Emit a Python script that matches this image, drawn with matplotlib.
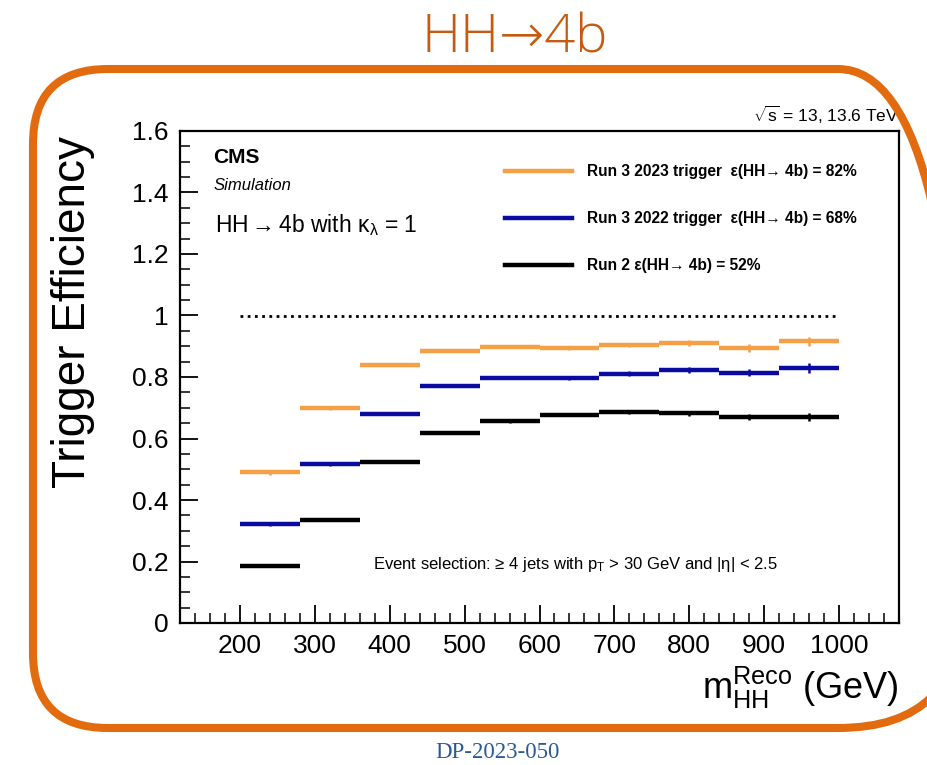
import numpy as np
import matplotlib
matplotlib.use("Agg")
import matplotlib.pyplot as plt
from matplotlib.patches import PathPatch
from matplotlib.path import Path
from matplotlib.lines import Line2D
from matplotlib.ticker import MultipleLocator, FormatStrFormatter


# bin edges of m_HH^Reco (GeV)
BIN_EDGES = [200, 280, 360, 440, 520, 600, 680, 760, 840, 920, 1000]

# trigger efficiency per bin
EFF_RUN3_2023 = [0.490, 0.698, 0.839, 0.885, 0.898, 0.894, 0.904, 0.911, 0.894, 0.916]
EFF_RUN3_2022 = [0.321, 0.517, 0.681, 0.771, 0.796, 0.796, 0.810, 0.823, 0.814, 0.830]
EFF_RUN2 = [0.185, 0.335, 0.524, 0.618, 0.656, 0.678, 0.686, 0.682, 0.670, 0.670]

ERR_RUN3_2023 = [0.008, 0.004, 0.003, 0.003, 0.004, 0.005, 0.008, 0.010, 0.013, 0.015]
ERR_RUN3_2022 = [0.006, 0.007, 0.003, 0.003, 0.004, 0.006, 0.008, 0.010, 0.012, 0.017]
ERR_RUN2 = [0.003, 0.003, 0.003, 0.003, 0.004, 0.005, 0.006, 0.008, 0.010, 0.014]

LABELS = [
    "Run 3 2023 trigger  ε(HH→ 4b) = 82%",
    "Run 3 2022 trigger  ε(HH→ 4b) = 68%",
    "Run 2 ε(HH→ 4b) = 52%",
]
COLORS = ["#f5a047", "#0a0aa0", "#000000"]


def slide_frame(x0, y0, x1, y1, rl, rr):
    # rounded frame, tighter corners on the left than on the right
    verts = [(x0 + rl, y0), (x1 - rr, y0), (x1, y0), (x1, y0 + rr),
             (x1, y1 - rr), (x1, y1), (x1 - rr, y1), (x0 + rl, y1),
             (x0, y1), (x0, y1 - rl), (x0, y0 + rl), (x0, y0),
             (x0 + rl, y0), (x0 + rl, y0)]
    codes = [Path.MOVETO, Path.LINETO, Path.CURVE3, Path.CURVE3,
             Path.LINETO, Path.CURVE3, Path.CURVE3, Path.LINETO,
             Path.CURVE3, Path.CURVE3, Path.LINETO, Path.CURVE3,
             Path.CURVE3, Path.CLOSEPOLY]
    return Path(verts, codes)


def main():
    plt.rcParams["font.family"] = ["Liberation Sans", "DejaVu Sans"]
    plt.rcParams["mathtext.fontset"] = "custom"
    plt.rcParams["mathtext.rm"] = "Liberation Sans"
    plt.rcParams["mathtext.it"] = "Liberation Sans:italic"
    plt.rcParams["mathtext.bf"] = "Liberation Sans:bold"

    fig = plt.figure(figsize=(9.27, 7.65), dpi=100)
    ax = fig.add_axes([180 / 927, 1 - 623 / 765, 719 / 927, 492 / 765])

    edges = np.array(BIN_EDGES, dtype=float)
    lo, hi = edges[:-1], edges[1:]
    centers = 0.5 * (lo + hi)

    series = [
        (EFF_RUN3_2023, ERR_RUN3_2023),
        (EFF_RUN3_2022, ERR_RUN3_2022),
        (EFF_RUN2, ERR_RUN2),
    ]
    for (vals, errs), col in zip(series, COLORS):
        ax.hlines(vals, lo, hi, colors=col, linewidth=3.2)
        ax.errorbar(centers, vals, yerr=errs, fmt="none", ecolor=col,
                    elinewidth=1.8, capsize=0)

    # 100% reference line
    ax.hlines(1.0, edges[0], edges[-1], colors="black", linewidth=2,
              linestyles=(0, (1, 1.6)))

    ax.set_xlim(120, 1080)
    ax.set_ylim(0, 1.6)
    ax.xaxis.set_major_locator(MultipleLocator(100))
    ax.xaxis.set_minor_locator(MultipleLocator(20))
    ax.yaxis.set_major_locator(MultipleLocator(0.2))
    ax.yaxis.set_minor_locator(MultipleLocator(0.05))
    ax.yaxis.set_major_formatter(FormatStrFormatter("%g"))
    ax.tick_params(which="both", direction="in", top=False, right=False)
    ax.tick_params(which="major", length=13, width=1.3, labelsize=19, pad=8)
    ax.tick_params(which="minor", length=7, width=1.1)
    for s in ax.spines.values():
        s.set_linewidth(1.6)

    ax.set_ylabel("Trigger Efficiency", fontsize=33, loc="top")
    ax.yaxis.set_label_coords(-0.118, 0.99)
    ax.set_xlabel(r"$\mathregular{m_{HH}^{Reco}}$ (GeV)", fontsize=26, loc="right")
    ax.xaxis.set_label_coords(1.0, -0.085)

    handles = [Line2D([], [], color=c, linewidth=3.2) for c in COLORS]
    ax.legend(handles, LABELS, loc="upper left", bbox_to_anchor=(0.452, 0.932),
              frameon=False, borderpad=0, borderaxespad=0, handlelength=4.3,
              handletextpad=1.0, labelspacing=2.05,
              prop={"size": 11.2, "weight": "bold"})

    ax.text(0.046, 0.947, "CMS", transform=ax.transAxes, fontsize=15,
            fontweight="bold", va="center")
    ax.text(0.046, 0.890, "Simulation", transform=ax.transAxes, fontsize=12,
            style="italic", va="center")
    ax.text(0.048, 0.808, r"HH$\mathregular{\rightarrow}$4b with $\mathregular{\kappa_{\lambda}}$ = 1",
            transform=ax.transAxes, fontsize=16.5, va="center")
    ax.text(0.268, 0.118,
            r"Event selection: ≥ 4 jets with $\mathregular{p_{T}}$ > 30 GeV and |η| < 2.5",
            transform=ax.transAxes, fontsize=12, va="center")
    ax.text(1.0, 1.01, r"$\mathregular{\sqrt{s}}$ = 13, 13.6 TeV",
            transform=ax.transAxes, fontsize=12.5, ha="right", va="bottom")

    # slide decorations
    frame = PathPatch(slide_frame(0.33, 0.37, 9.63, 6.96, 0.75, 1.25),
                      transform=fig.dpi_scale_trans, facecolor="none",
                      edgecolor="#e26b10", linewidth=5.8, clip_on=False)
    fig.patches.append(frame)
    fig.text(515 / 927, 1 - 39 / 765, "HH→4b", fontsize=39, color="#c55a11",
             family=["Open Sans", "DejaVu Sans"], fontweight="light",
             ha="center", va="center")
    fig.text(497 / 927, 1 - 752 / 765, "DP-2023-050", fontsize=16.5,
             color="#2a5a96", family=["Liberation Serif", "DejaVu Serif"],
             ha="center", va="center")

    fig.savefig("out.png", dpi=100)


if __name__ == "__main__":
    main()
